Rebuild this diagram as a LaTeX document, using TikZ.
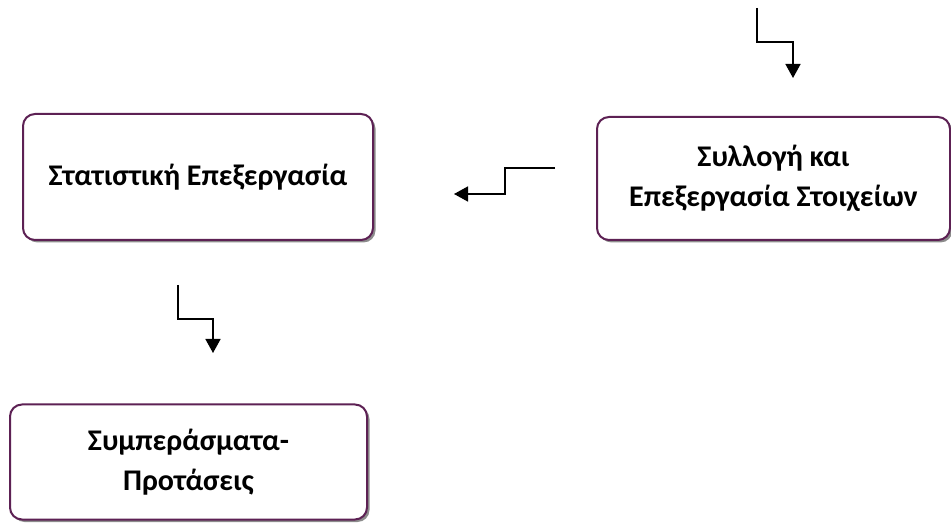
\documentclass[tikz,border=0pt]{standalone}
\usepackage{fontspec}
\setmainfont{Carlito}
\usetikzlibrary{arrows.meta,positioning,shadows}

\definecolor{boxline}{RGB}{93,33,84}

\tikzset{
 stage/.style={draw=boxline, line width=2pt, rounded corners=12pt, fill=white,
   align=center, font=\fontsize{30}{40}\selectfont\bfseries,
   drop shadow={shadow xshift=2.5pt, shadow yshift=-2.5pt, fill=black!45, opacity=1}},
 flow/.style={line width=1.5pt, -{Triangle[length=14pt,width=15pt]}}
}

\begin{document}
\begin{tikzpicture}[x=1pt,y=-1pt]
 \useasboundingbox (0,0) rectangle (951,529);

 \node (collect) [stage, minimum width=353pt, minimum height=123pt] at (773.5,178.5)
   {Συλλογή και\\Επεξεργασία Στοιχείων};
 \node (stat)    [stage, minimum width=350pt, minimum height=126pt] at (198,177)
   {Στατιστική Επεξεργασία};
 \node (result)  [stage, minimum width=357pt, minimum height=115pt] at (188.5,462)
   {Συμπεράσματα-\\Προτάσεις};

 % free standing step arrows
 \coordinate (in1)  at (757,8);
 \coordinate (in2)  at (793,78);
 \coordinate (mid1) at (555,168);
 \coordinate (mid2) at (454,194);
 \coordinate (out1) at (178,285);
 \coordinate (out2) at (213,353);

 \draw[flow] (in1)  |- (793,42) -- (in2);
 \draw[flow] (mid1) -| (505,194) -- (mid2);
 \draw[flow] (out1) |- (213,319) -- (out2);

\end{tikzpicture}
\end{document}
